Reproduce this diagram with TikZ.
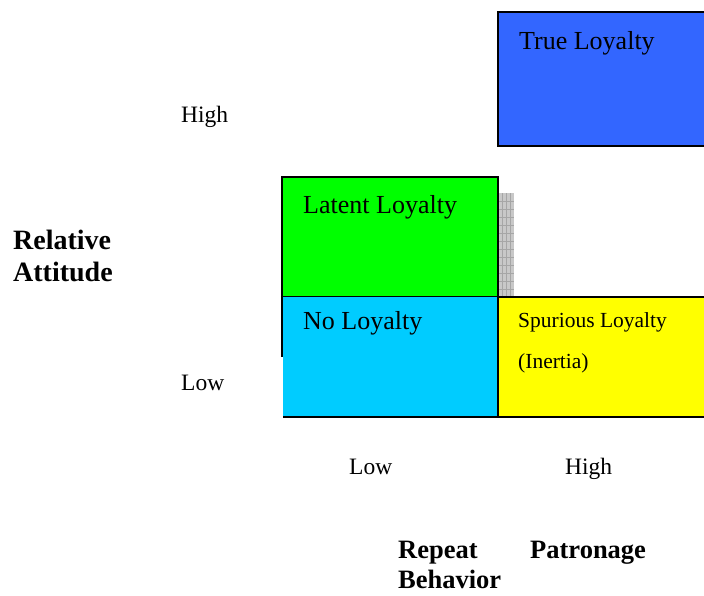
\documentclass[tikz,border=0pt]{standalone}
\usepackage{fontspec}
\setmainfont{Liberation Serif}
\definecolor{tlblue}{HTML}{3366FF}
\definecolor{llgreen}{HTML}{00FF00}
\definecolor{nlcyan}{HTML}{00CCFF}
\definecolor{slyellow}{HTML}{FFFF00}
\definecolor{stripgray}{HTML}{C8C8C8}
\tikzset{
  cell/.style={line width=1.6pt, draw=black},
  boxlbl/.style={anchor=base west, inner sep=0pt, font=\fontsize{26}{30}\selectfont},
  smalllbl/.style={anchor=base west, inner sep=0pt, font=\fontsize{21.5}{25}\selectfont},
  axlbl/.style={anchor=base west, inner sep=0pt, font=\fontsize{23.5}{27}\selectfont},
  boldlbl/.style={anchor=base west, inner sep=0pt, font=\fontsize{26.5}{31}\selectfont\bfseries},
  bigbold/.style={anchor=base west, inner sep=0pt, font=\fontsize{28}{32}\selectfont\bfseries}
}
\begin{document}
\begin{tikzpicture}[x=1pt,y=-1pt]
\useasboundingbox (0,0) rectangle (704,595);
% gray strip
\fill[stripgray] (498,193) rectangle (514,297);
\foreach \yy in {201,209,...,297} \draw[gray!70, line width=0.4pt] (498,\yy) -- (514,\yy);
\foreach \xx in {502,506,510} \draw[gray!70, line width=0.4pt] (\xx,193) -- (\xx,297);
% true loyalty
\fill[tlblue] (498,12) rectangle (705,146);
\draw[cell] (705,12) -- (498,12) -- (498,146) -- (705,146);
% latent loyalty
\fill[llgreen] (282,177) rectangle (498,297);
\draw[cell] (282,177) rectangle (498,297);
% no loyalty
\fill[nlcyan] (283,297) rectangle (498,417);
\draw[cell] (282,297) -- (282,357);
\draw[cell] (283,417) -- (498,417) -- (498,297);
% spurious
\fill[slyellow] (498,297) rectangle (705,417);
\draw[cell] (705,297) -- (498,297) -- (498,417) -- (705,417);
% labels
\node[boxlbl] (tl) at (519,49) {True Loyalty};
\node[boxlbl] (ll) at (303,213) {Latent Loyalty};
\node[boxlbl] (nl) at (303,329) {No Loyalty};
\node[smalllbl] (sl) at (518,327) {Spurious Loyalty};
\node[smalllbl] (in) at (518,368) {(Inertia)};
\node[axlbl] (hi1) at (181,122) {High};
\node[axlbl] (lo1) at (181,390) {Low};
\node[axlbl] (lo2) at (349,474) {Low};
\node[axlbl] (hi2) at (565,474) {High};
\node[bigbold] (ra1) at (13,249) {Relative};
\node[bigbold] (ra2) at (13,281) {Attitude};
\node[boldlbl] (rp) at (398,558) {Repeat};
\node[boldlbl] (pa) at (530,558) {Patronage};
\node[boldlbl] (be) at (398,588) {Behavior};
\end{tikzpicture}
\end{document}
